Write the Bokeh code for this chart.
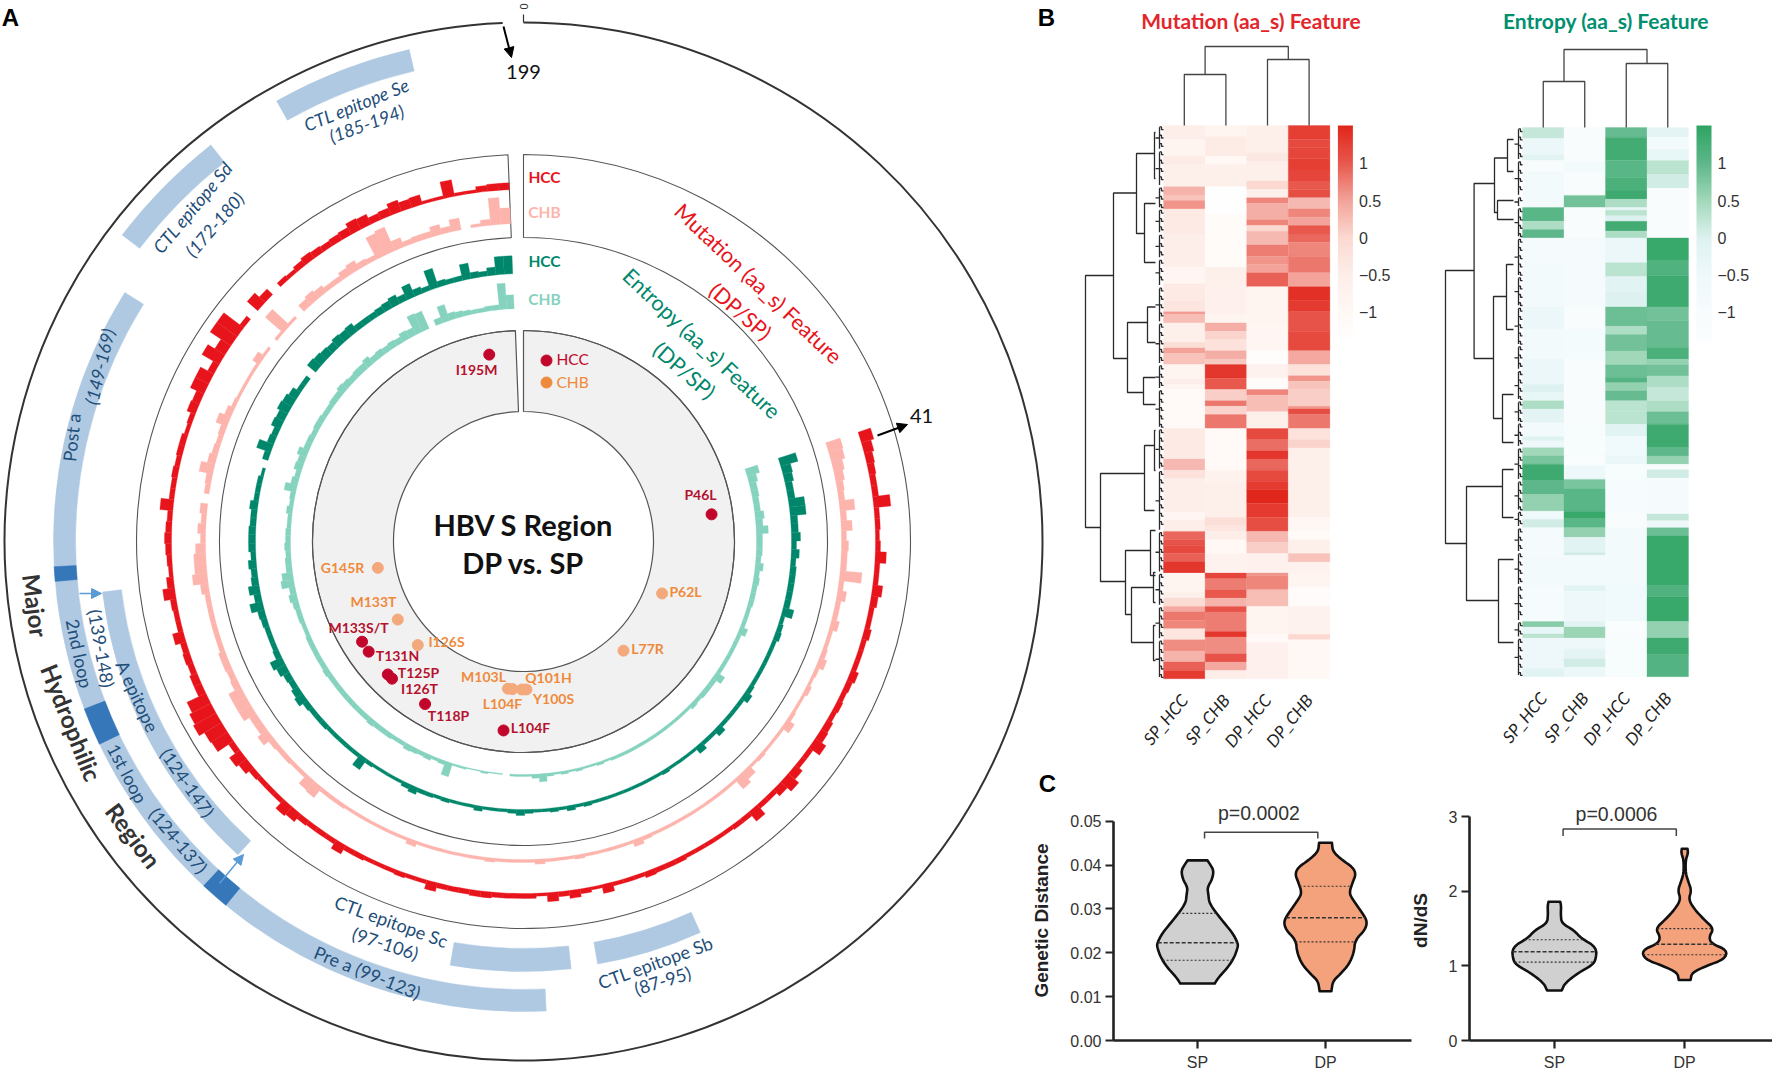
import math
import numpy as np
from bokeh.core.properties import value
from bokeh.embed import file_html
from bokeh.layouts import column, row
from bokeh.models import (Arrow, ColorBar, ColumnDataSource, FixedTicker, LinearAxis,
                          LinearColorMapper, NormalHead, Range1d)
from bokeh.plotting import figure
from bokeh.resources import INLINE

# ---------------------------------------------------------------- data: panel A
FIRST_RESIDUE = 41
MUT_HCC = [13,10,8,7,6,6,17,5,5,4,
           5,11,5,5,10,7,5,5,7,5,
           5,5,8,6,5,6,5,7,8,13,
           5,5,9,14,9,5,5,12,5,5,
           4,4,4,4,4,5,5,5,6,4,
           4,4,9,3,5,8,5,9,3,5,
           5,5,5,6,6,5,5,5,9,4,
           4,5,4,4,4,5,5,10,5,5,
           5,6,10,12,5,5,5,6,10,13,
           6,19,20,26,24,21,8,8,6,7,
           6,11,5,5,6,12,7,4,5,6,
           7,6,5,13,5,5,6,5,6,6,
           4,5,9,8,15,15,7,20,12,25,
           25,5,0,14,8,0,5,4,6,8,
           7,6,7,8,12,11,7,8,12,9,
           10,3,3,17,3,3,6,7,7]
MUT_CHB = [15,14,11,9,7,6,15,6,11,5,
           7,6,6,22,5,9,5,5,8,4,
           4,5,8,4,3,5,3,3,4,9,
           3,3,3,4,3,9,13,3,3,3,
           3,3,3,3,3,3,3,4,7,3,
           3,3,3,3,4,3,3,3,5,3,
           3,3,3,4,3,3,3,3,3,3,
           3,6,3,3,3,3,3,3,3,4,
           4,4,13,12,4,4,5,5,6,12,
           8,8,14,14,14,7,6,7,7,5,
           5,5,5,5,5,8,15,12,12,10,
           5,8,5,7,0,5,6,14,8,6,
           5,6,12,7,4,3,3,3,3,8,
           3,0,3,24,3,0,8,10,8,5,
           5,8,10,6,5,24,26,10,5,6,
           6,10,6,12,0,3,6,27,16]
ENT_HCC = [18,10,9,7,7,16,16,7,7,9,
           5,8,5,6,6,6,6,6,11,4,
           5,6,4,4,4,4,4,4,5,8,
           4,4,4,4,8,4,4,8,3,3,
           3,3,4,3,3,3,3,3,3,3,
           3,3,4,3,5,3,4,3,3,4,
           6,4,3,3,3,5,3,3,3,4,
           3,4,4,7,5,3,3,3,3,4,
           13,4,4,4,4,4,5,5,5,6,
           10,8,6,7,10,13,6,5,5,5,
           6,7,13,7,11,7,6,8,5,7,
           7,7,6,6,8,5,5,5,3,0,
           6,15,7,6,10,9,12,11,9,5,
           5,0,11,10,9,8,10,9,10,6,
           6,6,7,8,10,7,14,7,5,20,
           6,5,5,16,6,5,8,18,18]
ENT_CHB = [13,9,7,7,6,6,9,7,12,6,
           6,6,5,8,5,6,5,5,5,4,
           4,4,8,4,4,4,4,4,4,10,
           5,5,5,4,5,3,3,3,3,3,
           3,3,3,3,3,3,3,3,2,3,
           2,2,3,2,3,2,3,8,4,2,
           2,2,0,1,1,2,1,1,2,2,
           14,4,3,5,4,5,6,4,4,5,
           5,5,6,5,5,5,5,5,5,5,
           5,6,5,5,5,5,5,4,4,5,
           5,6,8,6,13,11,6,6,5,6,
           5,5,4,4,6,4,5,12,7,5,
           8,7,10,6,6,5,6,6,5,5,
           6,6,8,7,6,7,7,9,6,7,
           6,7,6,9,8,20,19,0,6,17,
           7,6,5,4,4,5,5,26,14]

HCC_RESIDUES = [195, 46, 133, 131, 125, 126, 118, 104]
HCC_LABELS = ["I195M", "P46L", "M133S/T", "T131N", "T125P", "I126T", "T118P", "L104F"]
CHB_RESIDUES = [145, 62, 133, 126, 77, 103, 104, 100, 101]
CHB_LABELS = ["G145R", "P62L", "M133T", "I126S", "L77R", "M103L", "L104F", "Y100S", "Q101H"]

LIGHT_BANDS = [(99.6, 169, "pre"), (124.7, 147.4, "a"), (185, 194, "se"), (172, 180, "sd"),
               (97.6, 106.6, "sc"), (87.6, 95.6, "sb")]
DARK_BLOCKS = [(122.0, 124.0), (136.0, 138.6), (147.5, 148.5)]

# ---------------------------------------------------------------- data: panel B (end row, value)
COLUMNS = ["SP_HCC", "SP_CHB", "DP_HCC", "DP_CHB"]
H1_SP_HCC = [(5,-.5),(11,-.8),(14,-.45),(22,-.6),(25,.35),(27,.2),(30,.6),(39,-.4),(51,-.5),(57,-.9),(58,-.4),
             (63,-.4),(67,-.3),(68,.55),(71,.25),(78,-.6),(80,-.1),(82,.5),(86,.2),(91,-.8),(93,-.5),(95,-.8),
             (109,-1.1),(116,-.4),(120,-.4),(124,.3),(127,-.2),(139,-.5),(142,-.9),(146,-.5),(149,.9),(151,1.05),
             (154,1.15),(157,.95),(161,1.35),(168,-.8),(170,-.6),(173,-.05),(175,.45),(178,.8),(181,.7),(185,-.3),
             (189,.65),(193,.35),(196,.95),(199,1.3)]
H1_SP_CHB = [(4,-.8),(11,-.45),(14,-1.),(22,-.6),(32,-1.35),(51,-1.15),(58,-.55),(68,-.65),(71,-.85),(74,.4),
             (77,.05),(81,-.2),(84,.4),(86,.15),(91,1.35),(95,1.),(99,.1),(101,.8),(104,.05),(109,.8),(124,-1.1),
             (129,-.7),(141,-.55),(144,-.1),(146,-.3),(149,-.5),(154,-1.),(161,-.7),(163,1.2),(167,.75),(170,1.),
             (173,.35),(175,1.05),(182,.75),(184,1.35),(190,.65),(193,1.05),(196,.45),(199,-.5)]
H1_DP_HCC = [(10,-.6),(13,-.35),(20,-.55),(23,0.),(26,-.6),(28,.7),(34,.4),(36,.7),(38,0.),(43,.3),(47,.75),
             (50,.6),(53,.5),(58,.95),(71,-.85),(81,-.9),(86,-1.3),(91,-.7),(95,-1.2),(97,.7),(103,.25),(109,-.55),
             (113,1.15),(117,.85),(120,1.35),(124,.9),(128,1.15),(131,1.3),(136,1.5),(141,1.3),(146,1.1),(150,.3),
             (154,.1),(161,-.65),(162,.6),(167,.7),(173,.25),(183,-.85),(186,-1.1),(199,-.65)]
H1_DP_CHB = [(5,1.25),(8,1.15),(12,1.2),(16,1.25),(20,1.2),(23,1.),(26,1.1),(30,.3),(33,.7),(36,.5),(39,1.),
             (42,.9),(47,.7),(53,.8),(58,.5),(63,1.4),(67,1.3),(74,1.05),(81,1.15),(86,.45),(90,-.2),(92,.6),
             (95,.2),(101,.1),(102,.6),(104,1.1),(109,.8),(113,-.2),(116,.05),(124,-.55),(141,-.55),(146,-.95),
             (149,-1.1),(154,-.6),(157,.2),(161,-.7),(166,-.85),(173,-1.2),(183,-.7),(185,0.),(199,-1.)]

H2_SP_HCC = [(4,.2),(10,-.4),(12,-.1),(16,-1.1),(29,-.8),(34,1.05),(37,.4),(40,1.),(49,-.9),(65,-.8),(73,-.45),
             (84,-.8),(93,-.4),(96,0.),(99,-.3),(102,.4),(107,-.2),(112,-.7),(113.5,-.05),(116,-.5),(119,.5),
             (122,.8),(128,1.35),(133,1.),(139,.6),(142,-.6),(145,.1),(156,-.9),(166,-.75),(179,-.95),(181,.7),
             (183.5,-.3),(185,.3),(196,-.5),(199,-.1)]
H2_SP_CHB = [(12.5,-1.05),(16,-.75),(24.6,-1.1),(29,.85),(40,-1.1),(65,-.9),(73,-1.1),(84,-.85),(108,-1.2),
             (119,-1.),(122.5,-1.35),(127.5,-.5),(131,.8),(139,1.05),(141.5,1.4),(145,1.05),(148.5,.6),(154,-.1),
             (155,.1),(166,-.75),(168,-.1),(179,-.5),(181,-.1),(185,.55),(189,-.5),(192.5,-.2),(195.5,.1),(199,-.4)]
H2_DP_HCC = [(3.5,.95),(12,1.3),(18,1.05),(23,1.2),(26,1.35),(29,.4),(30,-.3),(32,.3),(34,0.),(37.5,1.3),(40,.4),
             (49,-.4),(54,.3),(60,-.1),(65,0.),(72,.9),(75,.4),(81,.85),(86,.5),(90.5,.9),(92.5,1.1),(95.5,.6),
             (99,.95),(103,.3),(107.5,.3),(112,-.1),(119,-.6),(122,-.4),(127.5,-1.),(140,-.95),(145,-1.2),
             (166,-.8),(179,-.6),(185,-1.3),(199,-1.)]
H2_DP_CHB = [(3.5,-.2),(8,-.8),(12,-.3),(17,.3),(22,.1),(40,-1.1),(48,1.4),(53.6,1.15),(65,1.35),(70,.85),
             (79.6,.95),(84,1.2),(86,.6),(90,.85),(94,.4),(99,.2),(103,.4),(107.5,.9),(116,1.35),(119,1.),(122,.6),
             (124,-1.1),(127,.1),(140,-.9),(142.5,.2),(145,-.5),(148,.9),(166,1.4),(170,1.15),(179,1.4),(185,.6),
             (191,1.35),(199,1.1)]

# vertical at x from y0 to y1, arms reach x0 and x1 (page pixels of the drawn tree)
TREE_H1 = [(1085,275,527,1113,1100),(1113,192.5,358,1136,1127),(1136,153,233,1154,1144),(1144,203,262,1155,1155),
           (1154,132,178,1155,1155),(1127,322,392,1147,1143),(1147,306.5,342,1155,1155),(1143,377,404,1155,1155),
           (1100,473,581,1144,1125),(1144,445,510,1154,1154),(1154,430,470,1155,1155),(1125,550,614,1150,1131),
           (1150,530,575,1155,1155),(1131,587,642,1153,1153),(1153,572,602,1155,1155),(1153,625,660,1155,1155)]
TREE_H2 = [(1445,270,543,1473.6,1466),(1473.6,183,358,1494,1493),(1494,157.5,212,1507,1497),(1507,139,171,1513,1513),
           (1497,200,219,1513,1513),(1493,296,418,1506,1502),(1506,264,329,1513,1513),(1502,394,442,1513,1513),
           (1466,486,600,1502,1498),(1502,469,517,1513,1513),(1498,559,642,1513,1513)]
CLUSTERS_H1 = [(0,9),(9,22),(22,30),(30,39),(39,48),(48,58),(58,71),(71,86),(86,95),(95,109),(109,124),(124,146),
               (146,161),(161,173),(173,185),(185,199)]
CLUSTERS_H2 = [(0,12),(12,25),(25,29),(29,40),(40,54),(54,65),(65,79),(79,88),(88,99),(99,107),(107,116),(116,128),
               (128,139),(139,145),(145,154),(154,166),(166,179),(179,185),(185,199)]

# ---------------------------------------------------------------- data: panel C
GD_GROUPS = ["SP", "DP"]
GD_SP_Y = [.0130,.0143,.0167,.0190,.0213,.0222,.0244,.0267,.0291,.0314,.0333,.0349,.0368,.0388,.0403,.0411]
GD_SP_W = [.135,.162,.238,.288,.315,.315,.277,.212,.146,.092,.085,.077,.115,.127,.096,.077]
GD_DP_Y = [.01124,.01357,.01512,.01744,.02016,.02287,.02519,.02713,.02907,.03217,.03372,.03605,.03798,.03953,.04109,.04302,.04512]
GD_DP_W = [.046,.058,.115,.185,.223,.231,.308,.327,.288,.212,.185,.212,.238,.212,.135,.058,.05]
GD_SP_Q = [.0183,.0223,.0290]
GD_DP_Q = [.0225,.0280,.0352]
DNDS_SP_Y = [.67,.77,.91,1.0,1.07,1.25,1.37,1.48,1.57,1.69,1.80,1.86]
DNDS_SP_W = [.056,.082,.187,.28,.317,.325,.205,.149,.056,.049,.052,.045]
DNDS_DP_Y = [.81,.91,1.0,1.09,1.21,1.30,1.39,1.50,1.62,1.76,1.89,2.01,2.12,2.24,2.42,2.51,2.57]
DNDS_DP_W = [.045,.056,.168,.306,.328,.205,.187,.224,.149,.075,.03,.052,.03,.0075,.0075,.026,.022]
DNDS_SP_Q = [1.05,1.19,1.35]
DNDS_DP_Q = [1.15,1.29,1.50]

# ---------------------------------------------------------------- panel A
RED, PINK, GREEN, TEAL = "#e8141c", "#fdb4ac", "#00876b", "#85d2bf"
BLUE, DARK, NAVY = "#afc9e2", "#3577b8", "#1f4e79"
CX, CY = 523, 541
DEG = 357.7 / 199

A = figure(width=1044, height=1074, x_range=Range1d(0 - CX, 1044 - CX), y_range=Range1d(CY - 1074, CY),
           x_axis_type=None, y_axis_type=None, output_backend="svg", toolbar_location=None,
           min_border=0, outline_line_color=None)
A.grid.visible = False


def ang(deg):
    return math.pi / 2 - math.radians(deg)


def wedge(fig, r0, r1, d0, d1, fill, line=None, width=1.0, alpha=1.0):
    fig.annular_wedge(x=[0] * len(r0), y=[0] * len(r0), inner_radius=r0, outer_radius=r1,
                      start_angle=[ang(d) for d in d1], end_angle=[ang(d) for d in d0],
                      fill_color=fill, fill_alpha=alpha, line_color=line, line_width=width)


def say(fig, x, y, text, size, color, angle=0, font="Lato", style="normal", align="center"):
    fig.text(x=[x], y=[y], text=[text], angle=[math.radians(angle)], text_font=value(font),
             text_font_size=f"{size}px", text_color=color, text_font_style=style,
             text_align=align, text_baseline="middle")


def sayp(x, y, text, size, color, angle=0, font="Lato", style="normal", align="center"):
    say(A, x - CX, CY - y, text, size, color, angle, font, style, align)


def sayarc(x, y, text, size, color, clockwise=True, style="normal"):
    phi = math.degrees(math.atan2(CY - y, x - CX))
    sayp(x, y, text, size, color, phi - 90 if clockwise else phi + 90, style=style)


# ring frames
wedge(A, [130], [211], [0], [357.8], "#f1f1f1", "#555555", 1.2)
wedge(A, [304], [387], [0], [357.7], None, "#555555", 1.1)
A.arc(x=[0], y=[0], radius=[211], start_angle=[ang(357.8)], end_angle=[ang(0)], line_color="#555555", line_width=1.1)
A.arc(x=[0], y=[0], radius=[519], start_angle=[ang(357.7)], end_angle=[ang(0)], line_color="#333333", line_width=2)
A.segment(x0=[0], y0=[CY - 14], x1=[0], y1=[CY - 22], line_color="#333333", line_width=1.2)
sayp(523, 6, "0", 11, "#333333", angle=90, font="Liberation Sans")

# annotation bands
band_r = {"pre": (448, 470), "a": (405, 424), "se": (483, 505), "sd": (483, 505), "sc": (407, 430), "sb": (407, 429)}
for a, b, key in LIGHT_BANDS:
    r0, r1 = band_r[key]
    wedge(A, [r0], [r1], [(a - 1) * DEG], [(b - 1) * DEG], BLUE, BLUE, 0.5)
wedge(A, [448] * 3, [470] * 3, [a * DEG for a, _ in DARK_BLOCKS], [b * DEG for _, b in DARK_BLOCKS], DARK, DARK, 0.5)

# feature tracks
for series, base, color in [(MUT_HCC, 352, RED), (MUT_CHB, 318, PINK), (ENT_HCC, 268, GREEN), (ENT_CHB, 233, TEAL)]:
    keep = [i for i, v in enumerate(series) if v > 0]
    wedge(A, [base] * len(keep), [base + series[i] for i in keep],
          [(FIRST_RESIDUE + i - 1) * DEG for i in keep], [(FIRST_RESIDUE + i) * DEG for i in keep], color, color, 0.3)

# mutation points
for residues, radius, color in [(HCC_RESIDUES, 190, "#c2062b"), (CHB_RESIDUES, 148, "#f4a97c")]:
    th = [math.radians((k - 0.5) * DEG) for k in residues]
    A.scatter(x=[radius * math.sin(t) for t in th], y=[radius * math.cos(t) for t in th], size=11,
              fill_color=color, line_color=color)
A.scatter(x=[23], y=[CY - 360], size=11, fill_color="#c2062b", line_color="#c2062b")
A.scatter(x=[23], y=[CY - 382], size=11, fill_color="#ef8a3c", line_color="#ef8a3c")
sayp(556, 358, "HCC", 15.5, "#c2062b", align="left")
sayp(556, 381, "CHB", 15.5, "#ef8a3c", align="left")

hcc_pos = [(476, 369), (700, 494), (358, 627), (397, 655), (418, 672), (419, 688), (448, 715), (530, 727)]
chb_pos = [(342, 567), (685, 591), (373, 601), (446, 641), (647, 648), (483, 676), (502, 703), (553, 698), (548, 677)]
for lab, (x, y) in zip(HCC_LABELS, hcc_pos):
    sayp(x, y, lab, 14, "#b5122e", style="bold")
for lab, (x, y) in zip(CHB_LABELS, chb_pos):
    sayp(x, y, lab, 14, "#ef8a3c", style="bold")

sayp(523, 524, "HBV S Region", 29, "#111111", style="bold")
sayp(523, 562, "DP vs. SP", 29, "#111111", style="bold")
sayp(10, 17, "A", 24, "#000000", font="Liberation Sans", style="bold")

# track legends
for y, txt, col in [(176, "HCC", RED), (211, "CHB", PINK), (260, "HCC", GREEN), (298, "CHB", TEAL)]:
    sayp(544, y, txt, 15.5, col, style="bold")
sayp(760, 285, "Mutation  (aa_s) Feature", 21.5, RED, angle=-43.5)
sayp(740, 311, "(DP/SP)", 21.5, RED, angle=-41)
sayp(703.5, 345, "Entropy  (aa_s) Feature", 21.5, GREEN, angle=-43.4)
sayp(684, 370, "(DP/SP)", 21.5, GREEN, angle=-41)
for x, y, word in [(35, 605, "Major"), (71, 722, "Hydrophilic"), (133, 835, "Region")]:
    sayarc(x, y, word, 24, "#333333", clockwise=False, style="bold")

band_text = [(356, 104, "CTL epitope Se", 22, "italic"), (366, 123, "(185-194)", 20, "italic"),
             (192, 207, "CTL epitope Sd", 50, "italic"), (214, 224, "(172-180)", 49, "italic"),
             (71, 437, "Post a", 84, "normal"), (99, 366, "(149-169)", 77, "italic"),
             (79, 653, "2nd loop", -78, "normal"), (101, 648, "(139-148)", -80, "normal"),
             (137, 696, "A epitope", -65, "normal"), (187, 782, "(124-147)", -55, "normal"),
             (127, 773, "1st loop", -62, "normal"), (178, 840, "(124-137)", -50, "normal"),
             (367, 972, "Pre a (99-123)", -22, "normal"), (391, 921, "CTL epitope Sc", -20, "normal"),
             (385, 943, "(97-106)", -18, "normal"), (655, 962, "CTL epitope Sb", 20, "normal"),
             (662, 980, "(87-95)", 17, "normal")]
for x, y, txt, rot, st in band_text:
    sayp(x, y, txt, 18, NAVY, angle=rot, style=st)

# arrows and their labels
for x0, y0, x1, y1, col, w in [(503, 26, 511, 57, "#000000", 2), (877, 435, 907, 424, "#000000", 2),
                               (79, 593, 101, 593, "#5b9bd5", 1.5), (219, 883, 243, 854, "#5b9bd5", 1.5)]:
    A.add_layout(Arrow(end=NormalHead(size=10, fill_color=col, line_color=col), line_color=col, line_width=w,
                       x_start=x0 - CX, y_start=CY - y0, x_end=x1 - CX, y_end=CY - y1))
sayp(523, 71, "199", 20, "#111111")
sayp(921, 415, "41", 20, "#111111")

# ---------------------------------------------------------------- panel B
TOP_H = 800


def ramp(stops, n=256):
    pos = np.array([p for p, _ in stops])
    rgb = np.array([[int(c[i:i + 2], 16) for i in (1, 3, 5)] for _, c in stops], float)
    t = np.linspace(0, 1, n)
    return ["#%02x%02x%02x" % tuple(int(round(np.interp(u, pos, rgb[:, j]))) for j in range(3)) for u in t]


REDS = ramp([(0, "#ffffff"), (.14, "#fff8f5"), (.31, "#fdeee9"), (.48, "#fbdad2"), (.65, "#f3a59c"), (.83, "#e8574c"), (1, "#e1261c")])
GREENS = ramp([(0, "#fbfdfe"), (.14, "#f7fcfd"), (.31, "#eef8fa"), (.48, "#def2f1"), (.65, "#a3d9bb"), (.83, "#5db78a"), (1, "#2fa463")])


def heatmap(cols, palette, left, right, cw, x_heat, y_heat, rh, tree, clusters, top_tree, leaf_x, title, title_x,
            title_color, margin, letters=()):
    X = lambda px: (px - x_heat) / cw
    Y = lambda py: (py - y_heat) / rh
    fig = figure(width=right - left, height=TOP_H, x_range=Range1d(X(left), X(right)),
                 y_range=Range1d(Y(TOP_H), Y(0)), x_axis_type=None, y_axis_type=None, output_backend="svg",
                 toolbar_location=None, min_border=0, outline_line_color=None, background_fill_color=None,
                 border_fill_color=None, margin=margin)
    fig.grid.visible = False
    mapper = LinearColorMapper(palette=palette, low=-1.41, high=1.51)
    xs0, xs1, ys0, ys1, vals = [], [], [], [], []
    for i, runs in enumerate(cols):
        start = 0
        for end, v in runs:
            xs0.append(i); xs1.append(i + 1); ys0.append(start); ys1.append(end); vals.append(v)
            start = end
    src = ColumnDataSource(dict(left=xs0, right=xs1, top=ys0, bottom=ys1, v=vals))
    cmap = {"field": "v", "transform": mapper}
    fig.quad(left="left", right="right", top="top", bottom="bottom", source=src, fill_color=cmap, line_color=cmap,
             line_width=0.3)
    # row tree
    lx, ly = [], []
    for xv, y0, y1, x0, x1 in tree:
        lx.append([X(x0), X(xv), X(xv), X(x1)])
        ly.append([Y(y0), Y(y0), Y(y1), Y(y1)])
    for r0, r1 in clusters:
        mid = (r0 + r1) / 2
        lx.append([X(leaf_x), X(leaf_x + 4), X(leaf_x + 4)])
        ly.append([mid, mid, r0 + .6])
        lx.append([X(leaf_x + 4), X(leaf_x + 4)])
        ly.append([mid, r1 - .6])
        r = r0 + 1
        while r < r1:
            lx.append([X(leaf_x + 4), X(leaf_x + 6), X(leaf_x + 6), 0])
            ly.append([r - .5, r - .5, r + .5, r + .5])
            r += 3
    fig.multi_line(lx, ly, line_color="#2a2a2a", line_width=1.3)
    # column tree
    cx, cy = [], []
    for a, b, h_a, h_b, h in top_tree:
        cx.append([a, a, b, b])
        cy.append([Y(h_a), Y(h), Y(h), Y(h_b)])
    fig.multi_line(cx, cy, line_color="#444444", line_width=1.3)
    axis = LinearAxis(ticker=FixedTicker(ticks=[.5, 1.5, 2.5, 3.5]), fixed_location=199,
                      major_label_overrides={.5: COLUMNS[0], 1.5: COLUMNS[1], 2.5: COLUMNS[2], 3.5: COLUMNS[3]},
                      major_label_orientation=0.88, axis_line_color=None, major_tick_line_color=None,
                      minor_tick_line_color=None, major_label_text_font="Lato", major_label_text_font_style="italic",
                      major_label_text_font_size="17px", major_label_text_color="#222222", major_label_standoff=12)
    fig.add_layout(axis, "below")
    bar = ColorBar(color_mapper=mapper, location=(x_heat + cw * 4 + 8 - left, TOP_H - 342), width=15, height=217,
                   padding=0, margin=0, ticker=FixedTicker(ticks=[-1, -.5, 0, .5, 1]), bar_line_color=None,
                   major_tick_line_color=None, minor_tick_line_color=None, label_standoff=6,
                   major_label_overrides={-1: "\u22121", -.5: "\u22120.5", 0: "0", .5: "0.5", 1: "1"},
                   major_label_text_font="Liberation Sans", major_label_text_font_size="16px",
                   major_label_text_color="#333333", background_fill_color=None, border_line_color=None)
    fig.add_layout(bar)
    say(fig, X(title_x), Y(20), title, 21, title_color, style="bold")
    for letter, lxp, lyp in letters:
        say(fig, X(lxp), Y(lyp), letter, 24, "#000000", font="Liberation Sans", style="bold")
    return fig


B1 = heatmap([H1_SP_HCC, H1_SP_CHB, H1_DP_HCC, H1_DP_CHB], REDS, 1044 - 16, 1420, 41.6, 1163, 125, 2.78, TREE_H1,
             CLUSTERS_H1, [(.5, 1.5, 125, 125, 74), (2.5, 3.5, 125, 125, 59), (1, 3, 74, 59, 46)], 1155,
             "Mutation (aa_s)  Feature", 1253, "#e3262b", (0, 0, 0, -16), [("B", 1046, 17), ("C", 1047, 783)])
B2 = heatmap([H2_SP_HCC, H2_SP_CHB, H2_DP_HCC, H2_DP_CHB], GREENS, 1420, 1772, 41.5, 1522, 127, 2.76, TREE_H2,
             CLUSTERS_H2, [(.5, 1.5, 127, 127, 81), (2.5, 3.5, 127, 127, 63), (1, 3, 81, 63, 49)], 1514,
             "Entropy (aa_s)  Feature", 1608, "#00906f", 0)

# ---------------------------------------------------------------- panel C


def smooth(pts, n=2):
    pts = np.asarray(pts, float)
    for _ in range(n):
        a, b = pts[:-1], pts[1:]
        q, r = .75 * a + .25 * b, .25 * a + .75 * b
        pts = np.vstack([pts[:1], np.column_stack([q, r]).reshape(-1, 2), pts[-1:]])
    return pts


def violin(fig, center, ys, ws, quarts, color):
    half = smooth(np.column_stack([ws, ys]))
    xs = np.r_[center - half[:, 0], (center + half[:, 0])[::-1]]
    yy = np.r_[half[:, 1], half[::-1, 1]]
    fig.patch(xs, yy, fill_color=color, line_color="#111111", line_width=2.6, line_join="round")
    for i, q in enumerate(quarts):
        w = float(np.interp(q, half[:, 1], half[:, 0]))
        fig.line([center - w, center + w], [q, q], line_color="#333333", line_width=1.6 if i == 1 else 1.1,
                 line_dash="4 2" if i == 1 else "2 2")


def vplot(width, left_border, right_border, x_rng, y_rng, bounds, ticks, fmt, label, bottom, margin):
    fig = figure(width=width, height=1074 - TOP_H, x_range=Range1d(*x_rng), y_range=Range1d(*y_rng), x_axis_type=None,
                 y_axis_type=None, output_backend="svg", toolbar_location=None, min_border_left=left_border,
                 min_border_right=right_border, min_border_top=0, min_border_bottom=bottom, outline_line_color=None,
                 background_fill_color=None, border_fill_color=None, margin=margin)
    fig.grid.visible = False
    style = dict(axis_line_color="#222222", axis_line_width=2.6, major_tick_line_color="#222222",
                 major_tick_line_width=2.2, major_tick_out=8, major_tick_in=0, minor_tick_line_color=None,
                 major_label_text_font="Liberation Sans", major_label_text_font_size="16px",
                 major_label_text_color="#333333")
    ya = LinearAxis(ticker=FixedTicker(ticks=ticks), bounds=bounds, axis_label=label, axis_label_standoff=15,
                    axis_label_text_font="Liberation Sans", axis_label_text_font_style="bold",
                    axis_label_text_font_size="19px", axis_label_text_color="#222222", major_label_standoff=4,
                    major_label_overrides=fmt, **style)
    fig.add_layout(ya, "left")
    xa = LinearAxis(ticker=FixedTicker(ticks=[1, 2]), major_label_overrides={1: GD_GROUPS[0], 2: GD_GROUPS[1]},
                    major_label_standoff=5, **style)
    fig.add_layout(xa, "below")
    return fig


C1 = vplot(388, 85, 5, (1 - 84 / 128, 2 + 86 / 128), (0, (1042 - TOP_H) / 4420), (0, .05),
           [0, .01, .02, .03, .04, .05],
           {0: "0.00", .01: "0.01", .02: "0.02", .03: "0.03", .04: "0.04", .05: "0.05"}, "Genetic Distance", 32,
           (0, 0, 0, -16))
violin(C1, 1, GD_SP_Y, GD_SP_W, GD_SP_Q, "#d0d0d0")
violin(C1, 2, GD_DP_Y, GD_DP_W, GD_DP_Q, "#f4a27c")
C1.multi_line([[1.055, 1.055, 1.94, 1.94]], [[.0461, .0475, .0475, .0461]], line_color="#444444", line_width=1.5)
say(C1, 1.48, .0519, "p=0.0002", 19.5, "#333333", font="Liberation Sans")

C2 = vplot(369, 66, 0, (1 - 86 / 132, 2 + 89 / 132), (0, (1040 - TOP_H) / 74.6), (0, 3), [0, 1, 2, 3],
           {0: "0", 1: "1", 2: "2", 3: "3"}, "dN/dS", 34, (0, 0, 0, -13))
violin(C2, 1, DNDS_SP_Y, DNDS_SP_W, DNDS_SP_Q, "#d0d0d0")
violin(C2, 2, DNDS_DP_Y, DNDS_DP_W, DNDS_DP_Q, "#f4a27c")
C2.multi_line([[1.067, 1.067, 1.936, 1.936]], [[2.74, 2.835, 2.835, 2.74]], line_color="#444444", line_width=1.5)
say(C2, 1.477, 3.03, "p=0.0006", 19.5, "#333333", font="Liberation Sans")

page = row(A, column(row(B1, B2), row(C1, C2)))
open("out.html", "w").write(file_html(page, INLINE))
